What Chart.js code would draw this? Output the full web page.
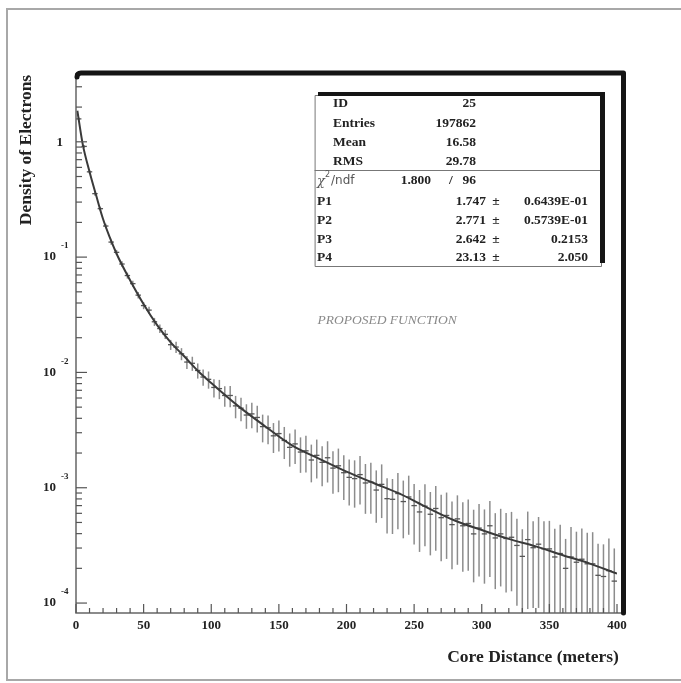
<!DOCTYPE html>
<html>
<head>
<meta charset="utf-8">
<script src="https://cdn.jsdelivr.net/npm/chart.js@4.4.1/dist/chart.umd.min.js"></script>
<style>
html,body{margin:0;padding:0;background:#fff;}
#wrap{width:681px;height:683px;}
</style>
</head>
<body>
<div id="wrap"><canvas id="chart" width="681" height="683"></canvas></div>
<script>
// ----- Data -----
const binWidth = 4;
const binX = [2,6,10,14,18,22,26,30,34,38,42,46,50,54,58,62,66,70,74,78,82,86,90,94,98,
  102,106,110,114,118,122,126,130,134,138,142,146,150,154,158,162,166,170,174,178,182,186,190,194,198,
  202,206,210,214,218,222,226,230,234,238,242,246,250,254,258,262,266,270,274,278,282,286,290,294,298,
  302,306,310,314,318,322,326,330,334,338,342,346,350,354,358,362,366,370,374,378,382,386,390,394,398];
const binY = [1.58,0.912,0.549,0.355,0.263,0.186,0.135,0.110,0.0871,0.0692,0.0589,0.0468,0.0380,0.0347,0.0275,0.0240,0.0214,0.0174,0.0166,0.0145,0.0123,0.0120,0.0104,0.00912,0.00871,
  0.00741,0.00724,0.00631,0.00631,0.00513,0.00490,0.00427,0.00437,0.00407,0.00339,0.00331,0.00282,0.00295,0.00257,0.00224,0.00240,0.00204,0.00209,0.00174,0.00191,0.00166,0.00182,0.00148,0.00155,0.00135,
  0.00123,0.00120,0.00130,0.00110,0.00112,0.000955,0.00107,0.000804,0.000794,0.000891,0.000759,0.000832,0.000700,0.000617,0.000692,0.000589,0.000661,0.000550,0.000575,0.000479,0.000537,0.000468,0.000490,0.000398,0.000447,
  0.000398,0.000468,0.000367,0.000398,0.000363,0.000372,0.000316,0.000254,0.000355,0.000302,0.000324,0.000295,0.000295,0.000251,0.000269,0.000200,0.000251,0.000226,0.000240,0.000219,0.000219,0.000174,0.000170,0.000191,0.000155];
const relErr = [0.03,0.03,0.035,0.04,0.04,0.045,0.05,0.05,
  0.055,0.06,0.06,0.065,0.07,0.07,0.08,0.085,
  0.09,0.10,0.11,0.12,0.13,0.14,0.15,0.16,
  0.17,0.18,0.19,0.20,0.21,0.22,0.23,0.24,
  0.25,0.26,0.27,0.28,0.29,0.30,0.31,0.32,
  0.33,0.34,0.35,0.36,0.37,0.38,0.39,0.40,
  0.41,0.42,0.43,0.44,0.45,0.46,0.47,0.48,
  0.49,0.50,0.50,0.51,0.52,0.53,0.54,0.55,
  0.55,0.56,0.57,0.58,0.58,0.59,0.60,0.60,
  0.61,0.62,0.62,0.63,0.64,0.64,0.65,0.66,
  0.66,0.70,0.72,0.75,0.70,0.72,0.74,0.75,
  0.76,0.78,0.80,0.82,0.84,0.85,0.86,0.88,
  0.88,0.90,0.90,0.92];

const curveX = [1,5,10,15,20,25,30,40,50,60,70,80,90,100,120,140,160,180,200,220,240,260,280,300,320,340,360,380,400];
const curveY = [1.86,0.95,0.55,0.34,0.214,0.148,0.107,0.063,0.039,0.0257,0.0182,0.0138,0.01035,0.0081,0.0051,0.0034,0.00232,0.00178,0.00138,0.00110,0.00088,0.00067,0.00052,0.00043,0.00036,0.00031,0.00026,0.00022,0.00018];

const xTickLabels = [0,50,100,150,200,250,300,350,400];
const yTickPowers = [-4,-3,-2,-1,0];

const statLabels = ["ID","Entries","Mean","RMS"];
const statValues = ["25","197862","16.58","29.78"];
const chiValue = "1.800", ndfValue = "96";
const paramNames = ["P1","P2","P3","P4"];
const paramValues = ["1.747","2.771","2.642","23.13"];
const paramErrors = ["0.6439E-01","0.5739E-01","0.2153","2.050"];

const SERIF = '"Liberation Serif", "Times New Roman", serif';

function line(ctx, x1, y1, x2, y2){
  ctx.beginPath(); ctx.moveTo(x1, y1); ctx.lineTo(x2, y2); ctx.stroke();
}

// ----- Decorations: error bars, axes, frame, stats box -----
const decor = {
  id: 'decor',
  beforeDatasetsDraw(chart){
    const {ctx, chartArea:a, scales:{x, y}} = chart;
    ctx.save();
    ctx.beginPath(); ctx.rect(a.left, a.top, a.right - a.left, a.bottom - a.top); ctx.clip();
    binX.forEach((bx, i) => {
      const v = binY[i], r = relErr[i];
      const px = x.getPixelForValue(bx);
      const top = y.getPixelForValue(v * (1 + r));
      const bot = r < 1 ? y.getPixelForValue(v * (1 - r)) : a.bottom;
      ctx.strokeStyle = '#8c8c8c'; ctx.lineWidth = 1.5;
      line(ctx, px, top, px, bot);
      const py = y.getPixelForValue(v);
      ctx.strokeStyle = '#555'; ctx.lineWidth = 1.3;
      line(ctx, x.getPixelForValue(bx - binWidth/2), py, x.getPixelForValue(bx + binWidth/2), py);
    });
    ctx.restore();
  },
  afterDraw(chart){
    const {ctx, chartArea:a, scales:{x, y}} = chart;
    ctx.save();

    // page border
    ctx.strokeStyle = '#a8a8a8'; ctx.lineWidth = 2;
    ctx.beginPath(); ctx.moveTo(681, 9); ctx.lineTo(7, 9); ctx.lineTo(7, 680); ctx.lineTo(681, 680); ctx.stroke();

    // axis lines
    ctx.strokeStyle = '#666'; ctx.lineWidth = 1.5;
    ctx.beginPath(); ctx.moveTo(a.left, a.top); ctx.lineTo(a.left, a.bottom); ctx.lineTo(a.right + 5, a.bottom); ctx.stroke();

    // y ticks (inside)
    ctx.strokeStyle = '#555'; ctx.lineWidth = 1.2;
    yTickPowers.forEach(p => {
      for (let k = 1; k < 10; k++){
        const v = k * Math.pow(10, p);
        if (v < y.min || v > y.max) continue;
        const py = y.getPixelForValue(v);
        line(ctx, a.left, py, a.left + (k === 1 ? 11 : 6), py);
      }
    });
    // x ticks (inside)
    for (let v = 0; v <= 400; v += 10){
      const px = x.getPixelForValue(v);
      line(ctx, px, a.bottom, px, a.bottom - (v % 50 === 0 ? 9 : 5));
    }

    // tick labels
    ctx.fillStyle = '#222';
    ctx.font = 'bold 13px ' + SERIF;
    ctx.textAlign = 'center'; ctx.textBaseline = 'middle';
    xTickLabels.forEach(v => ctx.fillText(String(v), x.getPixelForValue(v), a.bottom + 13));
    yTickPowers.forEach(p => {
      const py = y.getPixelForValue(Math.pow(10, p));
      ctx.font = 'bold 13px ' + SERIF;
      ctx.textAlign = 'right';
      if (p === 0){ ctx.fillText('1', 63, py + 1); return; }
      ctx.fillText('10', 56, py);
      ctx.font = 'bold 9px ' + SERIF;
      ctx.textAlign = 'left';
      ctx.fillText(String(p), 61, py - 11);
    });

    // axis titles
    ctx.font = 'bold 17.5px ' + SERIF;
    ctx.textAlign = 'center';
    ctx.fillText('Core Distance (meters)', 533, 657);
    ctx.save();
    ctx.translate(26, 150); ctx.rotate(-Math.PI/2);
    ctx.fillText('Density of Electrons', 0, 0);
    ctx.restore();

    // heavy frame top and right
    ctx.strokeStyle = '#151515'; ctx.lineWidth = 5; ctx.lineJoin = 'round'; ctx.lineCap = 'round';
    ctx.beginPath();
    ctx.moveTo(a.left + 1, a.top + 4);
    ctx.quadraticCurveTo(a.left + 1, a.top, a.left + 5, a.top);
    ctx.lineTo(623.5, a.top);
    ctx.lineTo(623.5, a.bottom);
    ctx.stroke();

    // annotation
    ctx.fillStyle = '#8a8a8a';
    ctx.font = 'italic 13.5px ' + SERIF;
    ctx.textAlign = 'center';
    ctx.fillText('PROPOSED FUNCTION', x.getPixelForValue(230), y.getPixelForValue(0.0285));

    // stats box
    ctx.fillStyle = '#fff';
    ctx.fillRect(315, 95, 287, 172);
    ctx.strokeStyle = '#777'; ctx.lineWidth = 1;
    ctx.strokeRect(315.5, 95.5, 286, 171);
    line(ctx, 315, 170.5, 601, 170.5);
    ctx.fillStyle = '#151515';
    ctx.fillRect(318, 92, 287, 4);
    ctx.fillRect(600, 92, 5, 171);

    ctx.fillStyle = '#222';
    ctx.font = 'bold 13.5px ' + SERIF;
    const statRows = [104, 124, 143, 162];
    statLabels.forEach((s, i) => {
      ctx.textAlign = 'left'; ctx.fillText(s, 333, statRows[i]);
      ctx.textAlign = 'right'; ctx.fillText(statValues[i], 476, statRows[i]);
    });
    // chi2 / ndf
    ctx.fillStyle = '#555';
    ctx.textAlign = 'left';
    ctx.font = 'italic 13px "DejaVu Serif", serif';
    ctx.fillText('\u03c7', 317, 182);
    ctx.font = '8px "DejaVu Sans", sans-serif';
    ctx.fillText('2', 325, 175);
    ctx.font = '12px "DejaVu Sans", sans-serif';
    ctx.fillText('/ndf', 331, 181);
    ctx.fillStyle = '#222';
    ctx.font = 'bold 13.5px ' + SERIF;
    ctx.textAlign = 'right'; ctx.fillText(chiValue, 431, 181);
    ctx.textAlign = 'center'; ctx.fillText('/', 451, 181);
    ctx.textAlign = 'right'; ctx.fillText(ndfValue, 476, 181);
    const parRows = [202, 221, 240, 258];
    paramNames.forEach((s, i) => {
      ctx.textAlign = 'left'; ctx.fillText(s, 317, parRows[i]);
      ctx.textAlign = 'right'; ctx.fillText(paramValues[i], 486, parRows[i]);
      ctx.textAlign = 'center'; ctx.fillText('\u00b1', 496, parRows[i]);
      ctx.textAlign = 'right'; ctx.fillText(paramErrors[i], 588, parRows[i]);
    });

    ctx.restore();
  }
};

// ----- Chart -----
new Chart(document.getElementById('chart'), {
  type: 'scatter',
  data: {
    datasets: [
      { label: 'data', data: binX.map((v, i) => ({x: v, y: binY[i]})), showLine: false, pointRadius: 0 },
      { label: 'fit', data: curveX.map((v, i) => ({x: v, y: curveY[i]})), showLine: true, pointRadius: 0,
        borderColor: '#3a3a3a', borderWidth: 2, cubicInterpolationMode: 'monotone', fill: false }
    ]
  },
  options: {
    responsive: false,
    animation: false,
    layout: { padding: { left: 76, top: 73, right: 64, bottom: 70 } },
    plugins: { legend: { display: false }, tooltip: { enabled: false } },
    scales: {
      x: { type: 'linear', min: 0, max: 400, display: false },
      y: { type: 'logarithmic', min: 8.2e-5, max: 3.95, display: false }
    }
  },
  plugins: [decor]
});
</script>
</body>
</html>
